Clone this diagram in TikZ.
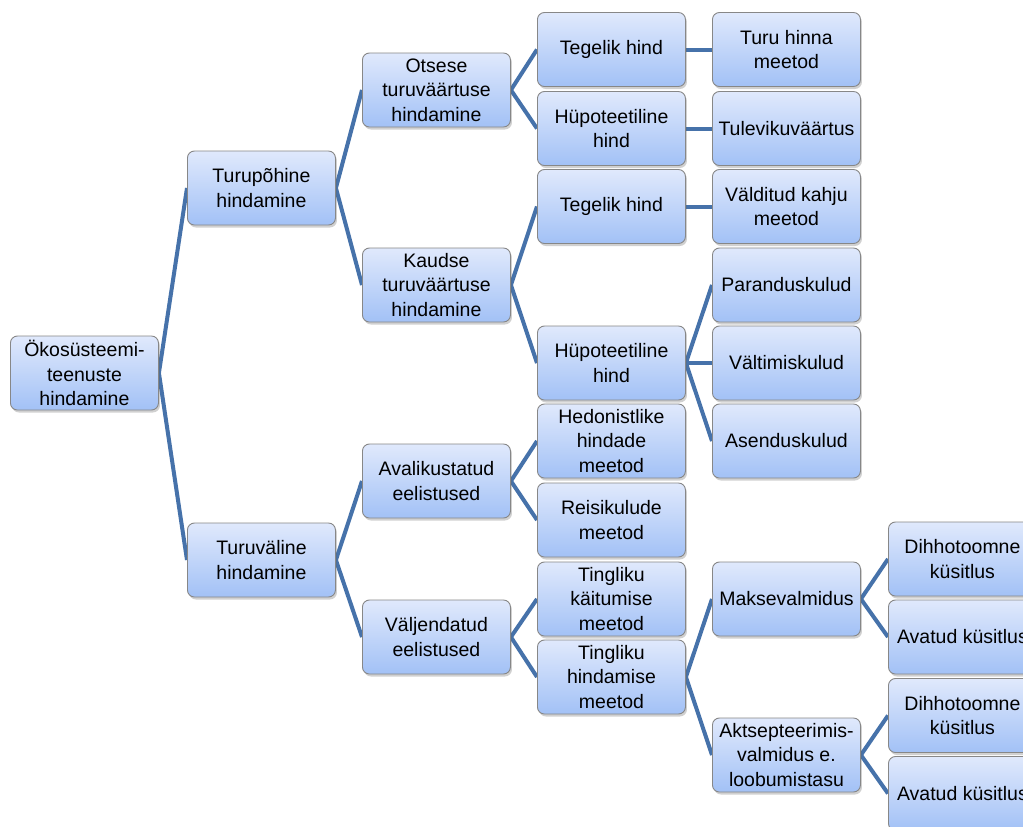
\documentclass[tikz,border=0pt]{standalone}
\usepackage{fontspec}
\setmainfont{Liberation Sans}
\usetikzlibrary{shadows,backgrounds}
\definecolor{linec}{RGB}{70,114,170}
\definecolor{topc}{RGB}{224,233,252}
\definecolor{botc}{RGB}{162,193,246}
\definecolor{bordc}{RGB}{135,135,135}
\tikzset{
  box/.style={rectangle, rounded corners=7pt, draw=bordc, line width=0.9pt,
    top color=topc, bottom color=botc, minimum width=148pt, minimum height=74pt,
    inner sep=2pt, align=center, font=\fontsize{19.5}{24.5}\selectfont,
    drop shadow={opacity=0.3, shadow xshift=1.5pt, shadow yshift=-2.5pt, fill=black!60},
    anchor=west},
  conn/.style={draw=linec, line width=4pt}
}
\begin{document}
\begin{tikzpicture}[x=1pt,y=-1pt]
\clip (0,0) rectangle (1023,827);
% level 0
\node[box] (root) at (10,373) {Ökosüsteemi-\\teenuste\\hindamine};
% level 1
\node[box] (tp) at (187,188) {Turupõhine\\hindamine};
\node[box] (tv) at (187,560) {Turuväline\\hindamine};
% level 2
\node[box] (ots) at (362,90) {Otsese\\turuväärtuse\\hindamine};
\node[box] (kau) at (362,285) {Kaudse\\turuväärtuse\\hindamine};
\node[box] (ava) at (362,481) {Avalikustatud\\eelistused};
\node[box] (val) at (362,637) {Väljendatud\\eelistused};
% level 3
\node[box] (th1) at (537,49.5) {Tegelik hind};
\node[box] (hh1) at (537,128.5) {Hüpoteetiline\\hind};
\node[box] (th2) at (537,206.5) {Tegelik hind};
\node[box] (hh2) at (537,363) {Hüpoteetiline\\hind};
\node[box] (hed) at (537,441) {Hedonistlike\\hindade\\meetod};
\node[box] (rei) at (537,520) {Reisikulude\\meetod};
\node[box] (tk) at (537,599) {Tingliku\\käitumise\\meetod};
\node[box] (th) at (537,677) {Tingliku\\hindamise\\meetod};
% level 4
\node[box] (thm) at (712,49.5) {Turu hinna\\meetod};
\node[box] (tul) at (712,128.5) {Tulevikuväärtus};
\node[box] (vkm) at (712,206.5) {Välditud kahju\\meetod};
\node[box] (par) at (712,285) {Paranduskulud};
\node[box] (vlt) at (712,363) {Vältimiskulud};
\node[box] (ase) at (712,441) {Asenduskulud};
\node[box] (mak) at (712,599) {Maksevalmidus};
\node[box] (akt) at (712,755) {Aktsepteerimis-\\valmidus e.\\loobumistasu};
% level 5
\node[box] (d1) at (888,559) {Dihhotoomne\\küsitlus};
\node[box] (a1) at (888,637) {Avatud küsitlus};
\node[box] (d2) at (888,715.5) {Dihhotoomne\\küsitlus};
\node[box] (a2) at (888,793.5) {Avatud küsitlus};
\begin{scope}[on background layer]
\fill[white] (0,0) rectangle (1023,827);
\draw[conn] (root.east) -- (tp.west);
\draw[conn] (root.east) -- (tv.west);
\draw[conn] (tp.east) -- (ots.west);
\draw[conn] (tp.east) -- (kau.west);
\draw[conn] (tv.east) -- (ava.west);
\draw[conn] (tv.east) -- (val.west);
\draw[conn] (ots.east) -- (th1.west);
\draw[conn] (ots.east) -- (hh1.west);
\draw[conn] (kau.east) -- (th2.west);
\draw[conn] (kau.east) -- (hh2.west);
\draw[conn] (ava.east) -- (hed.west);
\draw[conn] (ava.east) -- (rei.west);
\draw[conn] (val.east) -- (tk.west);
\draw[conn] (val.east) -- (th.west);
\draw[conn] (th1.east) -- (thm.west);
\draw[conn] (hh1.east) -- (tul.west);
\draw[conn] (th2.east) -- (vkm.west);
\draw[conn] (hh2.east) -- (par.west);
\draw[conn] (hh2.east) -- (vlt.west);
\draw[conn] (hh2.east) -- (ase.west);
\draw[conn] (th.east) -- (mak.west);
\draw[conn] (th.east) -- (akt.west);
\draw[conn] (mak.east) -- (d1.west);
\draw[conn] (mak.east) -- (a1.west);
\draw[conn] (akt.east) -- (d2.west);
\draw[conn] (akt.east) -- (a2.west);
\end{scope}
\end{tikzpicture}
\end{document}
